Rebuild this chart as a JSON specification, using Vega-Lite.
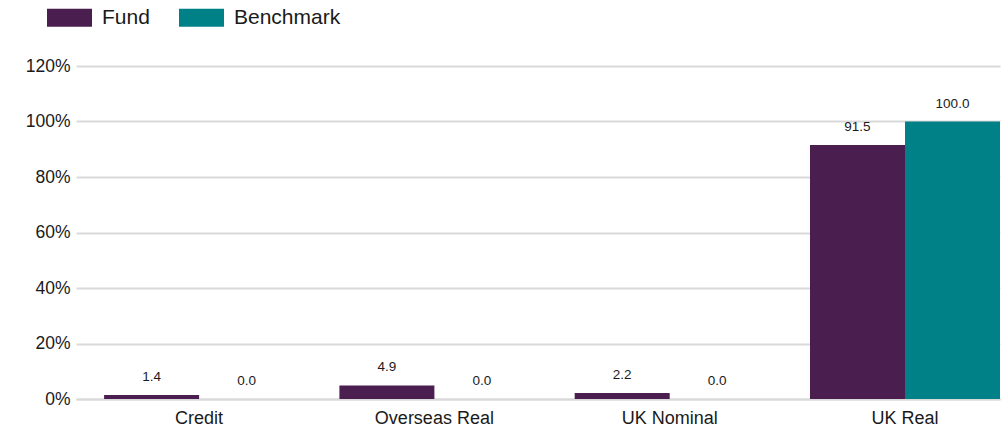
{
  "$schema": "https://vega.github.io/schema/vega-lite/v6.json",
  "width": 924,
  "height": 333,
  "autosize": "none",
  "padding": {"left": 76, "top": 66, "right": 8, "bottom": 47},
  "background": "white",
  "config": {
    "font": "Liberation Sans",
    "view": {"stroke": null},
    "axis": {"labelFont": "Liberation Sans", "labelColor": "#1a1a1a", "labelFontSize": 17, "ticks": false, "title": null}
  },
  "data": {
    "values": [
      {"category": "Credit", "series": "Fund", "value": 1.4},
      {"category": "Credit", "series": "Benchmark", "value": 0.0},
      {"category": "Overseas Real", "series": "Fund", "value": 4.9},
      {"category": "Overseas Real", "series": "Benchmark", "value": 0.0},
      {"category": "UK Nominal", "series": "Fund", "value": 2.2},
      {"category": "UK Nominal", "series": "Benchmark", "value": 0.0},
      {"category": "UK Real", "series": "Fund", "value": 91.5},
      {"category": "UK Real", "series": "Benchmark", "value": 100.0}
    ]
  },
  "encoding": {
    "x": {
      "field": "category",
      "type": "nominal",
      "sort": ["Credit", "Overseas Real", "UK Nominal", "UK Real"],
      "scale": {"paddingInner": 0.1925, "paddingOuter": 0.0597, "align": 1},
      "axis": {"labelAngle": 0, "labelPadding": 10, "labelFontSize": 18, "domain": true, "domainColor": "#d9d9d9", "domainWidth": 2, "grid": false}
    },
    "xOffset": {"field": "series", "type": "nominal", "sort": ["Fund", "Benchmark"], "scale": {"paddingInner": 0, "paddingOuter": 0}},
    "y": {
      "field": "value",
      "type": "quantitative",
      "scale": {"domain": [0, 120], "nice": false},
      "axis": {"values": [0, 20, 40, 60, 80, 100, 120], "labelExpr": "datum.value + '%'", "labelPadding": 6, "labelFontSize": 17.5, "domain": false, "grid": true, "gridColor": "#d9d9d9", "gridWidth": 2}
    }
  },
  "layer": [
    {
      "mark": {"type": "bar"},
      "encoding": {
        "color": {
          "field": "series",
          "type": "nominal",
          "sort": ["Fund", "Benchmark"],
          "scale": {"domain": ["Fund", "Benchmark"], "range": ["#4B1E50", "#008087"]},
          "legend": {
            "title": null,
            "orient": "none",
            "direction": "horizontal",
            "legendX": -29,
            "legendY": -71,
            "symbolType": "M-1,-0.4H1V0.4H-1Z",
            "symbolSize": 2025,
            "symbolStrokeWidth": 0,
            "symbolOpacity": 1,
            "labelFont": "Liberation Sans",
            "labelFontSize": 21,
            "labelColor": "#1a1a1a",
            "labelOffset": 10,
            "columnPadding": 29
          }
        }
      }
    },
    {
      "mark": {"type": "text", "baseline": "alphabetic", "dy": -14, "fontSize": 13.5, "color": "#1a1a1a", "font": "Liberation Sans"},
      "encoding": {
        "text": {"field": "value", "type": "quantitative", "format": ".1f"}
      }
    }
  ]
}
